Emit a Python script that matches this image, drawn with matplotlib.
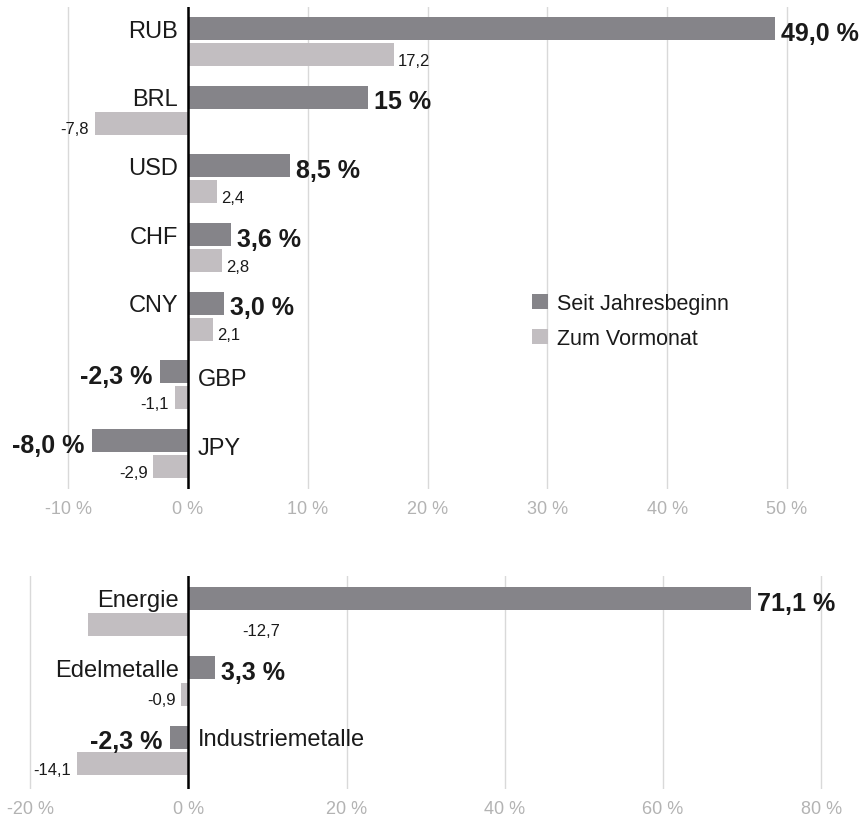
import matplotlib
matplotlib.use("Agg")
import matplotlib.pyplot as plt
from matplotlib.patches import Patch

plt.rcParams['font.family'] = ['Liberation Sans', 'DejaVu Sans']

# Währungen
currencies = ["RUB", "BRL", "USD", "CHF", "CNY", "GBP", "JPY"]
cur_ytd = [49.0, 15.0, 8.5, 3.6, 3.0, -2.3, -8.0]
cur_mom = [17.2, -7.8, 2.4, 2.8, 2.1, -1.1, -2.9]
cur_ytd_labels = ["49,0 %", "15 %", "8,5 %", "3,6 %", "3,0 %", "-2,3 %", "-8,0 %"]
cur_ticks = [-10, 0, 10, 20, 30, 40, 50]

# Rohstoffe
commodities = ["Energie", "Edelmetalle", "Industriemetalle"]
com_ytd = [71.1, 3.3, -2.3]
com_mom = [-12.7, -0.9, -14.1]
com_ytd_labels = ["71,1 %", "3,3 %", "-2,3 %"]
com_ticks = [-20, 0, 20, 40, 60, 80]

legend_labels = ["Seit Jahresbeginn", "Zum Vormonat"]

DARK = "#858489"
LIGHT = "#c2bec1"
GRID = "#d9d9d9"
TICK = "#b3b3b3"
TEXT = "#1a1a1a"

BAR_H = 0.335
OFF = 0.19


def fmt(v):
    return f"{v:.1f}".replace(".", ",")


def panel(ax, cats, ytd, mom, ytd_labels, ticks, xlim, ylim,
          mom_x_override=None, neg_cat_drop=0.0):
    mom_x_override = mom_x_override or {}
    y = list(range(len(cats)))
    y_dark = [v - OFF for v in y]
    y_light = [v + OFF for v in y]

    ax.barh(y_dark, ytd, height=BAR_H, color=DARK, zorder=2)
    ax.barh(y_light, mom, height=BAR_H, color=LIGHT, zorder=2)
    ax.axvline(0, color="black", lw=1.8, zorder=3)

    for i, cat in enumerate(cats):
        v = ytd[i]
        # Kategorie-Beschriftung auf der Gegenseite des Balkens
        if v >= 0:
            ax.annotate(cat, (0, y_dark[i]), xytext=(-7, -1.5), textcoords="offset points",
                        ha="right", va="center", fontsize=17, color=TEXT)
            ax.annotate(ytd_labels[i], (v, y_dark[i]), xytext=(4.5, -3), textcoords="offset points",
                        ha="left", va="center", fontsize=18, fontweight="bold", color=TEXT)
        else:
            ax.annotate(cat, (0, y_dark[i]), xytext=(7, -1.5 - neg_cat_drop), textcoords="offset points",
                        ha="left", va="center", fontsize=17, color=TEXT)
            ax.annotate(ytd_labels[i], (v, y_dark[i]), xytext=(-5.5, -3), textcoords="offset points",
                        ha="right", va="center", fontsize=18, fontweight="bold", color=TEXT)

        m = mom[i]
        if cat in mom_x_override:
            ax.annotate(fmt(m), (mom_x_override[cat], y_light[i]), xytext=(0, -4), textcoords="offset points",
                        ha="left", va="center", fontsize=12, color=TEXT)
        elif m >= 0:
            ax.annotate(fmt(m), (m, y_light[i]), xytext=(3, -4), textcoords="offset points",
                        ha="left", va="center", fontsize=12, color=TEXT)
        else:
            ax.annotate(fmt(m), (m, y_light[i]), xytext=(-4, -4), textcoords="offset points",
                        ha="right", va="center", fontsize=12, color=TEXT)

    ax.set_xlim(*xlim)
    ax.set_ylim(*ylim)
    ax.set_xticks(ticks)
    ax.set_xticklabels([f"{t} %" for t in ticks])
    ax.set_yticks([])
    ax.tick_params(axis="x", length=0, pad=8, labelsize=13, labelcolor=TICK)
    ax.grid(axis="x", color=GRID, lw=1, zorder=0)
    ax.set_axisbelow(True)
    for s in ax.spines.values():
        s.set_visible(False)


fig = plt.figure(figsize=(8.64, 8.2), dpi=100)

ax_top = fig.add_axes([0, 0.4024, 1, 0.5878])
panel(ax_top, currencies, cur_ytd, cur_mom, cur_ytd_labels, cur_ticks,
      xlim=(-15.69, 56.43), ylim=(6.517, -0.502), neg_cat_drop=4)

ax_bot = fig.add_axes([0, 0.0366, 1, 0.2597])
panel(ax_bot, commodities, com_ytd, com_mom, com_ytd_labels, com_ticks,
      xlim=(-23.83, 85.4), ylim=(2.554, -0.511), mom_x_override={"Energie": 6.8})

handles = [Patch(facecolor=DARK, edgecolor="none"), Patch(facecolor=LIGHT, edgecolor="none")]
leg = ax_top.legend(handles, legend_labels, loc="upper left", bbox_to_anchor=(0.6157, 0.6415),
                    bbox_transform=fig.transFigure, frameon=False, fontsize=15.5,
                    handlelength=0.75, handleheight=0.75, handletextpad=0.42,
                    labelspacing=0.65, borderpad=0, borderaxespad=0)
for t in leg.get_texts():
    t.set_color(TEXT)

fig.savefig("out.png", dpi=100)
